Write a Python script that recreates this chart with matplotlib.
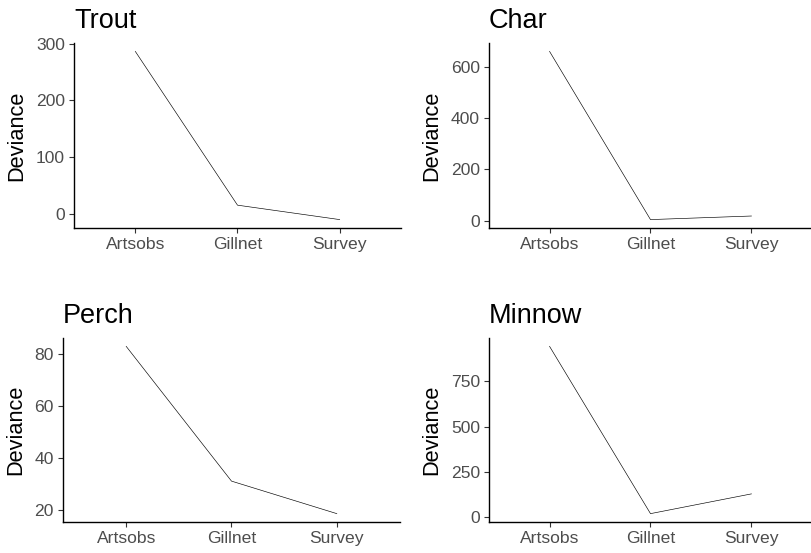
import matplotlib
matplotlib.use("Agg")
import matplotlib.pyplot as plt

plt.rcParams['font.family'] = ['Liberation Sans', 'DejaVu Sans']

categories = ["Artsobs", "Gillnet", "Survey"]
species = ["Trout", "Char", "Perch", "Minnow"]
trout = [286.6, 14.9, -10.6]
char = [661.6, 4.0, 18.0]
perch = [82.9, 31.1, 18.6]
minnow = [943.0, 20.0, 129.0]
values = [trout, char, perch, minnow]
yticks = [[0, 100, 200, 300], [0, 200, 400, 600], [20, 40, 60, 80], [0, 250, 500, 750]]

W, H = 812, 553
fig = plt.figure(figsize=(W / 100, H / 100), dpi=100)

# panel boxes in pixels: left, top, right, bottom
boxes = [(74, 43, 401, 228), (489, 43, 812, 228), (63, 338, 400, 522), (489, 338, 812, 522)]

for name, vals, ticks, (l, t, r, b) in zip(species, values, yticks, boxes):
    ax = fig.add_axes([l / W, 1 - b / H, (r - l) / W, (b - t) / H])
    x = list(range(1, len(categories) + 1))
    ax.plot(x, vals, color='black', lw=0.45)
    ax.set_xlim(0.4, 3.6)
    lo, hi = min(vals), max(vals)
    pad = (hi - lo) * 0.05
    ax.set_ylim(lo - pad, hi + pad)
    ax.set_xticks(x)
    ax.set_xticklabels(categories)
    ax.set_yticks(ticks)
    ax.spines['top'].set_visible(False)
    ax.spines['right'].set_visible(False)
    for s in ('left', 'bottom'):
        ax.spines[s].set_linewidth(1.0)
        ax.spines[s].set_color('black')
    ax.tick_params(axis='both', direction='out', length=3.5, width=0.8, color='#333333',
                   labelsize=12.6, labelcolor='#4D4D4D', pad=3)
    ax.set_ylabel("Deviance", fontsize=15.7, color='black', labelpad=6)
    ax.set_title(name, loc='left', fontsize=19.5, color='black', pad=11)

fig.savefig("out.png", dpi=100)
